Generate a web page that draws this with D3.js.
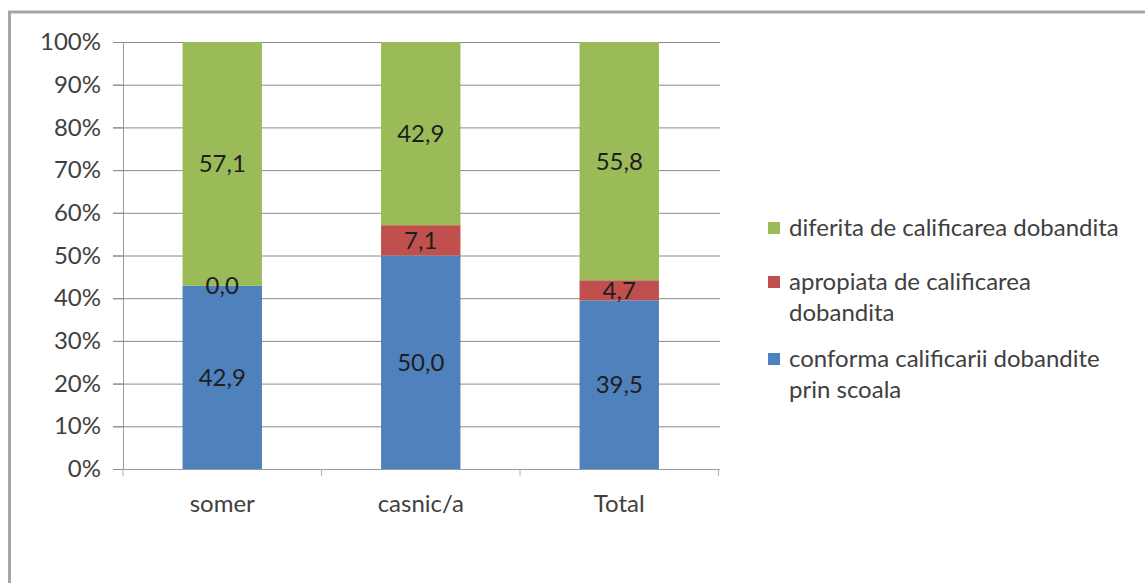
<!DOCTYPE html>
<html>
<head>
<meta charset="utf-8">
<script src="https://cdn.jsdelivr.net/npm/d3@7"></script>
<style>
html,body{margin:0;padding:0;background:#fff;}
svg{display:block;}
text{font-family:Lato,"Open Sans",sans-serif;}
</style>
</head>
<body>
<svg id="chart" width="1145" height="583"></svg>
<script>
const categories = ["somer", "casnic/a", "Total"];
const seriesNames = ["conforma calificarii dobandite prin scoala", "apropiata de calificarea dobandita", "diferita de calificarea dobandita"];
const conforma = [42.9, 50.0, 39.5];
const apropiata = [0.0, 7.1, 4.7];
const diferita = [57.1, 42.9, 55.8];
const yTicks = [0, 10, 20, 30, 40, 50, 60, 70, 80, 90, 100];
const legendLines = [
  ["diferita de calificarea dobandita"],
  ["apropiata de calificarea", "dobandita"],
  ["conforma calificarii dobandite", "prin scoala"]
];
const colors = ["#4F81BD", "#C0504D", "#9BBB59"];
const FS = 24;

const svg = d3.select("#chart");
svg.append("rect").attr("x", 9.5).attr("y", 12).attr("width", 1200).attr("height", 700)
  .attr("fill", "#fff").attr("stroke", "#a6a6a6").attr("stroke-width", 3);

const x = d3.scaleBand().domain(categories).range([123, 718.5]).padding(0);
const y = d3.scaleLinear().domain([0, 100]).range([469, 42]);

// gridlines
svg.append("g").selectAll("line").data(yTicks).join("line")
  .attr("x1", 113).attr("x2", 720)
  .attr("y1", d => y(d) + 0.5).attr("y2", d => y(d) + 0.5)
  .attr("stroke", d => d === 0 ? "#9a9a9a" : "#8a8a8a").attr("stroke-width", 1);

// y axis
const yAxis = svg.append("g").attr("transform", "translate(123,0)")
  .call(d3.axisLeft(y).tickValues(yTicks).tickFormat(d => d + "%").tickSize(10).tickPadding(12));
yAxis.select(".domain").attr("stroke", "#9a9a9a");
yAxis.selectAll(".tick line").attr("stroke", "#8a8a8a");
yAxis.selectAll(".tick text").attr("font-size", FS).attr("fill", "#404040")
  .attr("font-family", "Lato, 'Open Sans', sans-serif");

// x axis ticks at boundaries
const bounds = [0, 1, 2, 3].map(i => 123 + i * x.step());
svg.append("g").selectAll("line").data(bounds).join("line")
  .attr("x1", d => d).attr("x2", d => d).attr("y1", 469).attr("y2", 476)
  .attr("stroke", "#b0b0b0");

svg.append("g").selectAll("text").data(categories).join("text")
  .attr("x", d => x(d) + x.bandwidth() / 2).attr("y", 504).attr("dy", "0.35em")
  .attr("text-anchor", "middle").attr("font-size", FS).attr("fill", "#404040").text(d => d);

// stacked
const rows = categories.map((c, i) => ({cat: c, s0: conforma[i], s1: apropiata[i], s2: diferita[i]}));
const stack = d3.stack().keys(["s0", "s1", "s2"])(rows);
const bw = x.bandwidth() * 0.4;

stack.forEach((layer, li) => {
  svg.append("g").selectAll("rect").data(layer).join("rect")
    .attr("x", d => x(d.data.cat) + x.bandwidth() / 2 - bw / 2)
    .attr("width", bw)
    .attr("y", d => y(d[1]))
    .attr("height", d => y(d[0]) - y(d[1]))
    .attr("fill", colors[li]);
});
stack.forEach((layer, li) => {
  svg.append("g").selectAll("text").data(layer).join("text")
    .attr("x", d => x(d.data.cat) + x.bandwidth() / 2)
    .attr("y", d => y((d[0] + d[1]) / 2))
    .attr("dy", "0.35em")
    .attr("text-anchor", "middle").attr("font-size", FS).attr("fill", "#1e1e1e")
    .text(d => d3.format(".1f")(d[1] - d[0]).replace(".", ","));
});

// legend
const legendItems = [
  {color: colors[2], lines: legendLines[0], y: 228},
  {color: colors[1], lines: legendLines[1], y: 282},
  {color: colors[0], lines: legendLines[2], y: 359}
];
const lg = svg.append("g");
legendItems.forEach(it => {
  lg.append("rect").attr("x", 768).attr("y", it.y - 6).attr("width", 12).attr("height", 12).attr("fill", it.color);
  it.lines.forEach((l, k) => {
    lg.append("text").attr("x", 789).attr("y", it.y + k * 31).attr("dy", "0.35em")
      .attr("font-size", FS).attr("fill", "#404040").text(l);
  });
});
</script>
</body>
</html>
